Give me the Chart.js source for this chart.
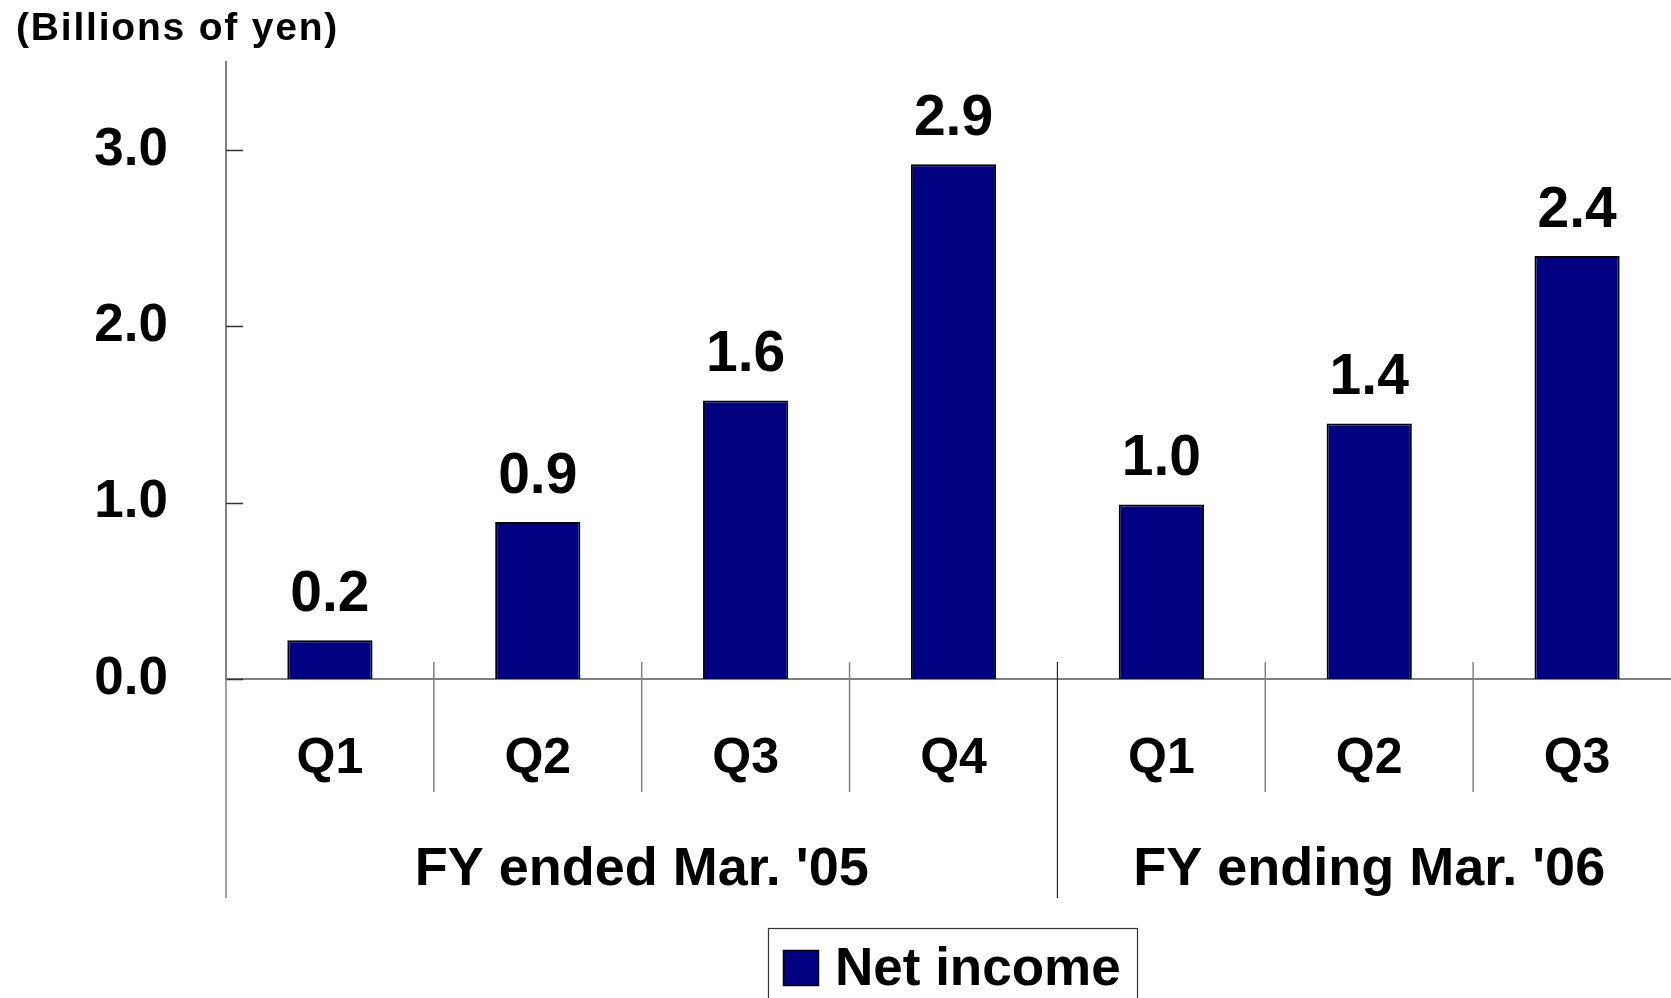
<!DOCTYPE html>
<html>
<head>
<meta charset="utf-8">
<script src="https://cdn.jsdelivr.net/npm/chart.js@4/dist/chart.umd.min.js"></script>
<style>
  html, body { margin: 0; padding: 0; background: #ffffff; overflow: hidden; }
  #wrap { position: relative; width: 1681px; height: 998px; }
</style>
</head>
<body>
<div id="wrap"><canvas id="c"></canvas></div>
<script>
// ---- data ----
const categories = ['Q1', 'Q2', 'Q3', 'Q4', 'Q1', 'Q2', 'Q3'];
const netIncome = [0.22, 0.89, 1.58, 2.92, 0.99, 1.45, 2.40];
const valueLabels = ['0.2', '0.9', '1.6', '2.9', '1.0', '1.4', '2.4'];
const groupLabels = ["FY ended Mar. '05", "FY ending Mar. '06"];
const groupSizes = [4, 3];
const yTickValues = [0, 1, 2, 3];
const seriesName = 'Net income';
const unitLabel = '(Billions of yen)';

const FONT = "'Liberation Sans', Arial, sans-serif";

const decor = {
  id: 'decor',
  afterDraw(chart) {
    const ctx = chart.ctx;
    const xs = chart.scales.x, ys = chart.scales.y;
    const ca = chart.chartArea;
    const n = categories.length;
    const step = (xs.getPixelForValue(1) - xs.getPixelForValue(0));
    ctx.save();

    // unit label
    ctx.fillStyle = '#000';
    ctx.font = 'bold 39px ' + FONT;
    ctx.textAlign = 'left';
    ctx.textBaseline = 'alphabetic';
    if ('letterSpacing' in ctx) ctx.letterSpacing = '1.8px';
    ctx.fillText(unitLabel, 16, 40);
    if ('letterSpacing' in ctx) ctx.letterSpacing = '0px';

    // inner y ticks
    ctx.strokeStyle = '#333';
    ctx.lineWidth = 1.5;
    yTickValues.forEach(v => {
      const y = Math.round(ys.getPixelForValue(v)) + 0.5;
      ctx.beginPath();
      ctx.moveTo(ca.left, y);
      ctx.lineTo(ca.left + 17, y);
      ctx.stroke();
    });

    // y axis extension below plot
    ctx.strokeStyle = '#808080';
    ctx.lineWidth = 1.5;
    ctx.beginPath();
    ctx.moveTo(ca.left, ca.bottom);
    ctx.lineTo(ca.left, 898);
    ctx.stroke();

    // category separators
    const groupEnds = [];
    let acc = 0;
    groupSizes.forEach(s => { acc += s; groupEnds.push(acc); });
    for (let i = 1; i < n; i++) {
      const bx = xs.getPixelForValue(i) - step / 2;
      const isGroup = groupEnds.includes(i);
      ctx.strokeStyle = isGroup ? '#222' : '#808080';
      ctx.lineWidth = isGroup ? 1.2 : 1.5;
      ctx.beginPath();
      ctx.moveTo(bx, ca.bottom - 17);
      ctx.lineTo(bx, isGroup ? 898 : 792);
      ctx.stroke();
    }

    // group labels
    ctx.fillStyle = '#000';
    ctx.font = 'bold 54px ' + FONT;
    ctx.textAlign = 'center';
    ctx.textBaseline = 'alphabetic';
    let start = 0;
    groupSizes.forEach((s, gi) => {
      const left = xs.getPixelForValue(start) - step / 2;
      const right = xs.getPixelForValue(start + s - 1) + step / 2;
      ctx.fillText(groupLabels[gi], (left + right) / 2, 885);
      start += s;
    });

    // legend
    const ds = chart.data.datasets[0];
    ctx.strokeStyle = '#333';
    ctx.lineWidth = 1.2;
    ctx.strokeRect(768.5, 928.5, 369, 90);
    ctx.fillStyle = ds.backgroundColor;
    ctx.fillRect(783, 950, 36, 36);
    ctx.strokeStyle = '#000';
    ctx.lineWidth = 1.5;
    ctx.strokeRect(783.5, 950.5, 35, 35);
    ctx.fillStyle = '#000';
    ctx.font = 'bold 53px ' + FONT;
    ctx.textAlign = 'left';
    ctx.fillText(ds.label, 835, 985);

    ctx.restore();
  },
  afterDatasetsDraw(chart) {
    const ctx = chart.ctx;
    const meta = chart.getDatasetMeta(0);
    ctx.save();
    ctx.fillStyle = '#000';
    ctx.font = 'bold 57px ' + FONT;
    ctx.textAlign = 'center';
    ctx.textBaseline = 'alphabetic';
    meta.data.forEach((bar, i) => {
      ctx.fillText(valueLabels[i], bar.x, bar.y - 29);
    });
    ctx.restore();
  }
};

new Chart(document.getElementById('c'), {
  type: 'bar',
  data: {
    labels: categories,
    datasets: [{
      label: seriesName,
      data: netIncome,
      backgroundColor: '#000080',
      borderColor: '#000000',
      borderWidth: 2,
      categoryPercentage: 1.0,
      barPercentage: 0.41
    }]
  },
  options: {
    responsive: true,
    maintainAspectRatio: false,
    animation: false,
    layout: { padding: { top: 62, left: 0, right: 0, bottom: 0 } },
    plugins: {
      legend: { display: false },
      tooltip: { enabled: false },
      title: { display: false }
    },
    scales: {
      x: {
        type: 'category',
        offset: true,
        grid: { display: false, drawTicks: false },
        border: { display: true, color: '#808080', width: 2 },
        ticks: {
          color: '#000',
          font: { family: FONT, size: 50, weight: 'bold' },
          padding: 50,
          maxRotation: 0,
          minRotation: 0,
          autoSkip: false
        },
        afterFit(scale) { scale.height = 319; scale.paddingLeft = 0; scale.paddingRight = 0; }
      },
      y: {
        min: 0,
        max: 3.5,
        grid: { display: false, drawTicks: false },
        border: { display: true, color: '#808080', width: 2 },
        ticks: {
          stepSize: 1,
          includeBounds: false,
          color: '#000',
          font: { family: FONT, size: 53, weight: 'bold' },
          padding: 58,
          callback: (v) => Number(v).toFixed(1)
        },
        afterFit(scale) { scale.width = 226; scale.paddingTop = 0; scale.paddingBottom = 0; }
      }
    }
  },
  plugins: [decor]
});
</script>
</body>
</html>
